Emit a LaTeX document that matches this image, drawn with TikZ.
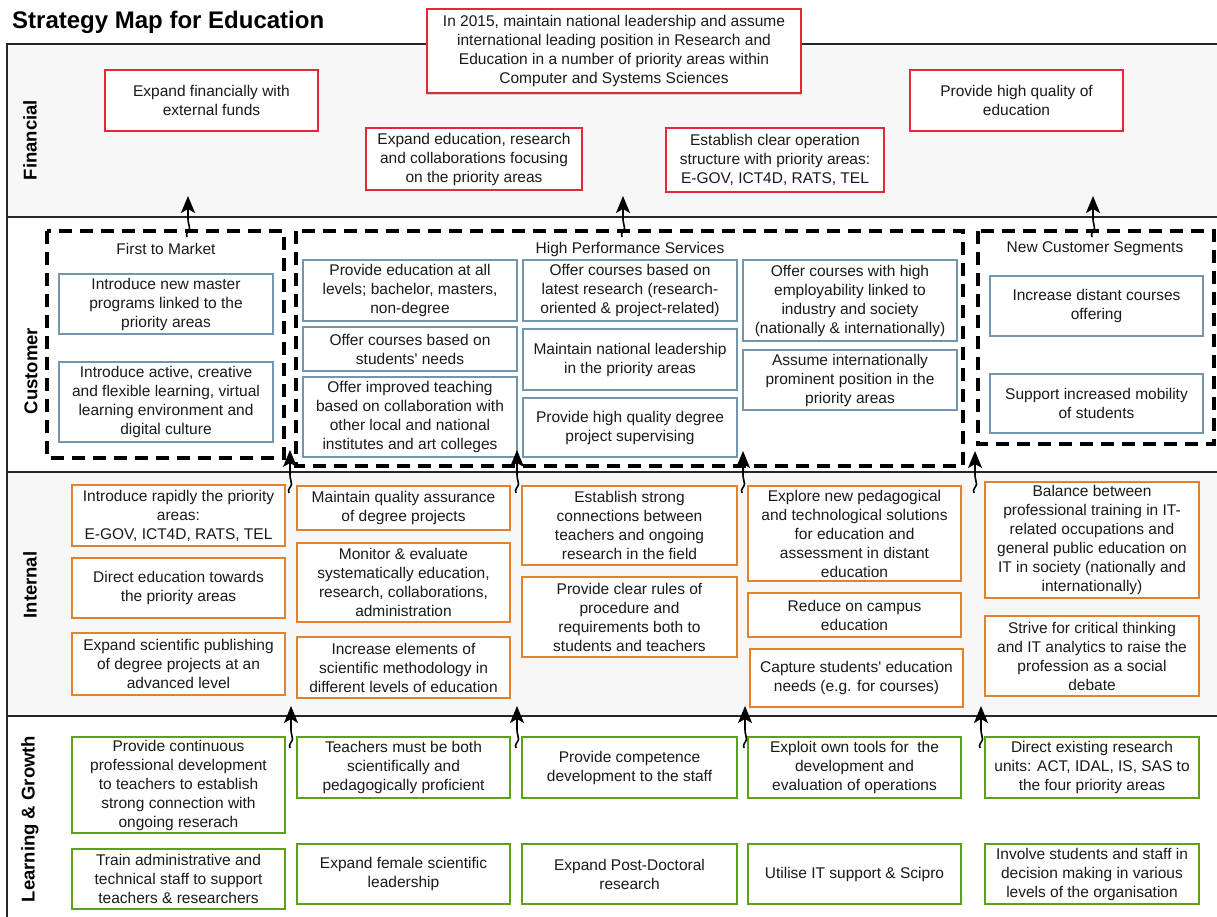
\documentclass[tikz,border=0pt]{standalone}
\usepackage{fontspec}
\newfontfamily\mapfont{Liberation Sans}
\usetikzlibrary{arrows.meta,shadows}
\definecolor{redc}{HTML}{E52738}
\definecolor{bluec}{HTML}{7396AE}
\definecolor{orangec}{HTML}{E1822F}
\definecolor{greenc}{HTML}{5FA019}
\definecolor{lanegray}{HTML}{F7F7F7}
\definecolor{textc}{HTML}{1A1A1A}
\definecolor{framec}{HTML}{262626}
\newcommand\strbox[7]{%
  \pgfmathsetmacro\bxcx{(#2+#4)/2}%
  \pgfmathsetmacro\bxcy{-(#3+#5)/2-1}%
  \pgfmathsetmacro\bxw{#4-#2}%
  \pgfmathsetmacro\bxh{#5-#3}%
  \node[#6, minimum width=\bxw pt, minimum height=\bxh pt] (#1) at (\bxcx,\bxcy) {#7};}
\newcommand\wavarr[4]{%
  \coordinate (#1s) at (#2-1,-#3);
  \coordinate (#1m) at (#2+1.5,-#3+9);
  \coordinate (#1n) at (#2,-#3+18);
  \coordinate (#1e) at (#2,-#4);
  \draw[wavearrow] (#1s) .. controls +(-2,4) and +(0,-3) .. (#1m) .. controls +(0,3) and +(0,-4) .. (#1n) -- (#1e);}
\begin{document}
\begin{tikzpicture}[x=1pt,y=1pt,
  every node/.style={font=\mapfont\fontsize{15.5}{19}\selectfont, text=textc},
  boxbase/.style={fill=white, line width=2.8pt, align=center, inner sep=1pt},
  finbox/.style={boxbase, draw=redc},
  cusbox/.style={boxbase, draw=bluec},
  intbox/.style={boxbase, draw=orangec},
  lrnbox/.style={boxbase, draw=greenc},
  groupbox/.style={draw=black, line width=3.5pt, dash pattern=on 13pt off 8pt},
  lanelabel/.style={rotate=90, font=\mapfont\bfseries\fontsize{18.5}{22}\selectfont, text=black},
  grouptitle/.style={inner sep=0pt},
  laneline/.style={draw=framec, line width=2pt},
  wavearrow/.style={draw=black, line width=1.6pt, -{Stealth[length=17pt,width=14pt,inset=4pt]}}
]
\useasboundingbox (0,0) rectangle (1217,-917);
\clip (0,0) rectangle (1217,-917);
\fill[white] (0,0) rectangle (1217,-917);

% lanes
\fill[lanegray] (7,-44) rectangle (1230,-217);
\fill[white] (7,-217) rectangle (1230,-472);
\fill[lanegray] (7,-472) rectangle (1230,-716);
\fill[white] (7,-716) rectangle (1230,-930);
\draw[laneline] (1230,-44) -- (7,-44) -- (7,-930);
\draw[laneline] (7,-217) -- (1230,-217);
\draw[laneline] (7,-472) -- (1230,-472);
\draw[laneline] (7,-716) -- (1230,-716);

% title
\node[anchor=base west, inner sep=0pt, font=\mapfont\bfseries\fontsize{24}{28}\selectfont, text=black] (title) at (12,-29) {Strategy Map for Education};

% lane labels
\node[lanelabel] (lfin) at (30,-140) {Financial};
\node[lanelabel] (lcus) at (31,-371) {Customer};
\node[lanelabel] (lint) at (30,-585) {Internal};
\node[lanelabel] (llrn) at (30,-819) {Learning \& Growth};

% vision
\strbox{vision}{427}{8}{801}{92}{finbox, drop shadow={shadow xshift=0pt, shadow yshift=-2pt, opacity=0.3}}{In 2015, maintain national leadership and assume\\ international leading position in Research and\\ Education in a number of priority areas within\\ Computer and Systems Sciences}

% financial
\strbox{f1}{105}{69}{318}{130}{finbox}{Expand financially with\\ external funds}
\strbox{f2}{366}{127}{582}{189}{finbox}{Expand education, research\\ and collaborations focusing\\ on the priority areas}
\strbox{f3}{666}{127}{884}{191}{finbox}{Establish clear operation\\ structure with priority areas:\\ E-GOV, ICT4D, RATS, TEL}
\strbox{f4}{910}{69}{1123}{130}{finbox}{Provide high quality of\\ education}

% customer groups
\draw[groupbox] (47,-231) rectangle (284,-458);
\draw[groupbox] (296,-231) rectangle (963,-466);
\draw[groupbox] (978,-231) rectangle (1214,-444);
\node[grouptitle] (gftm) at (166,-249) {First to Market};
\node[grouptitle] (ghps) at (630,-249) {High Performance Services};
\node[grouptitle] (gncs) at (1095,-249) {New Customer Segments};

\strbox{c1}{59}{273}{273}{333}{cusbox}{Introduce new master\\ programs linked to the\\ priority areas}
\strbox{c2}{59}{361}{273}{441}{cusbox}{Introduce active, creative\\ and flexible learning, virtual\\ learning environment and\\ digital culture}
\strbox{h11}{303}{259}{517}{320}{cusbox}{Provide education at all\\ levels; bachelor, masters,\\ non-degree}
\strbox{h12}{303}{326}{517}{370}{cusbox}{Offer courses based on\\ students' needs}
\strbox{h13}{303}{376}{517}{456}{cusbox}{Offer improved teaching\\ based on collaboration with\\ other local and national\\ institutes and art colleges}
\strbox{h21}{523}{259}{737}{320}{cusbox}{Offer courses based on\\ latest research (research-\\ oriented \& project-related)}
\strbox{h22}{523}{328}{737}{389}{cusbox}{Maintain national leadership\\ in the priority areas}
\strbox{h23}{523}{397}{737}{456}{cusbox}{Provide high quality degree\\ project supervising}
\strbox{h31}{743}{259}{957}{340}{cusbox}{Offer courses with high\\ employability linked to\\ industry and society\\ (nationally \& internationally)}
\strbox{h32}{743}{349}{957}{409}{cusbox}{Assume internationally\\ prominent position in the\\ priority areas}
\strbox{n1}{990}{275}{1203}{335}{cusbox}{Increase distant courses\\ offering}
\strbox{n2}{990}{373}{1203}{432}{cusbox}{Support increased mobility\\ of students}

% internal
\strbox{i01}{72}{484}{285}{545}{intbox}{Introduce rapidly the priority\\ areas:\\ E-GOV, ICT4D, RATS, TEL}
\strbox{i02}{72}{557}{285}{617}{intbox}{Direct education towards\\ the priority areas}
\strbox{i03}{72}{632}{285}{694}{intbox}{Expand scientific publishing\\ of degree projects at an\\ advanced level}
\strbox{i11}{297}{485}{510}{529}{intbox}{Maintain quality assurance\\ of degree projects}
\strbox{i12}{297}{542}{510}{621}{intbox}{Monitor \& evaluate\\ systematically education,\\ research, collaborations,\\ administration}
\strbox{i13}{297}{636}{510}{697}{intbox}{Increase elements of\\ scientific methodology in\\ different levels of education}
\strbox{i21}{522}{485}{737}{564}{intbox}{Establish strong\\ connections between\\ teachers and ongoing\\ research in the field}
\strbox{i22}{522}{576}{737}{656}{intbox}{Provide clear rules of\\ procedure and\\ requirements both to\\ students and teachers}
\strbox{i31}{748}{485}{961}{580}{intbox}{Explore new pedagogical\\ and technological solutions\\ for education and\\ assessment in distant\\ education}
\strbox{i32}{748}{592}{961}{636}{intbox}{Reduce on campus\\ education}
\strbox{i33}{750}{648}{963}{706}{intbox}{Capture students' education\\ needs (e.g. for courses)}
\strbox{i41}{985}{481}{1199}{597}{intbox}{Balance between\\ professional training in IT-\\ related occupations and\\ general public education on\\ IT in society (nationally and\\ internationally)}
\strbox{i42}{985}{615}{1199}{695}{intbox}{Strive for critical thinking\\ and IT analytics to raise the\\ profession as a social\\ debate}

% learning & growth
\strbox{l01}{72}{736}{285}{832}{lrnbox}{Provide continuous\\ professional development\\ to teachers to establish\\ strong connection with\\ ongoing reserach}
\strbox{l02}{72}{848}{285}{908}{lrnbox}{Train administrative and\\ technical staff to support\\ teachers \& researchers}
\strbox{l11}{297}{736}{510}{797}{lrnbox}{Teachers must be both\\ scientifically and\\ pedagogically proficient}
\strbox{l12}{297}{843}{510}{903}{lrnbox}{Expand female scientific\\ leadership}
\strbox{l21}{522}{736}{737}{797}{lrnbox}{Provide competence\\ development to the staff}
\strbox{l22}{522}{843}{737}{903}{lrnbox}{Expand Post-Doctoral\\ research}
\strbox{l31}{748}{736}{961}{797}{lrnbox}{Exploit own tools for\ \ the\\ development and\\ evaluation of operations}
\strbox{l32}{748}{843}{961}{903}{lrnbox}{Utilise IT support \& Scipro}
\strbox{l41}{985}{736}{1199}{797}{lrnbox}{Direct existing research\\ units: ACT, IDAL, IS, SAS to\\ the four priority areas}
\strbox{l42}{985}{843}{1199}{903}{lrnbox}{Involve students and staff in\\ decision making in various\\ levels of the organisation}

% wavy arrows
\wavarr{aa}{188}{237}{196}
\wavarr{ab}{623}{237}{196}
\wavarr{ac}{1093}{237}{196}
\wavarr{ba}{290}{493}{450}
\wavarr{bb}{517}{493}{450}
\wavarr{bc}{743}{493}{451}
\wavarr{bd}{975}{493}{451}
\wavarr{ca}{291}{748}{706}
\wavarr{cb}{517}{748}{706}
\wavarr{cc}{745}{748}{706}
\wavarr{cd}{981}{748}{706}
\end{tikzpicture}
\end{document}
